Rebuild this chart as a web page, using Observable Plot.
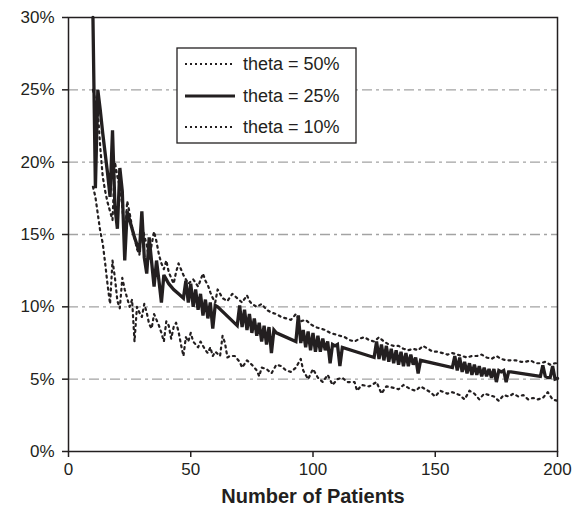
<!DOCTYPE html>
<html>
<head>
<meta charset="utf-8">
<script src="https://cdn.jsdelivr.net/npm/d3@7"></script>
<script src="https://cdn.jsdelivr.net/npm/@observablehq/plot@0.6"></script>
<style>
  html, body { margin: 0; padding: 0; background: #fff; }
  #chart { width: 579px; height: 515px; }
</style>
</head>
<body>
<div id="chart"></div>
<script>
// ---- Data (values in %) ----
const xTicks = [0, 50, 100, 150, 200];
const yTicks = [0, 5, 10, 15, 20, 25, 30];
const gridValues = [5, 10, 15, 20, 25];
const xLabel = "Number of Patients";
const seriesNames = ["theta = 50%", "theta = 25%", "theta = 10%"];

// theta = 25% (solid)
const n25 = [10,11,12,13,14,15,16,17,18,19,20,21,22,23,24,25,26,27,28,29,30,31,32,33,34,35,36,37,38,39,40,41,43,45,47,
  48,49,50,51,52,53,54,55,56,57,58,59,60,61,69,
  70,71,72,73,74,75,76,77,78,79,80,81,82,83,84,85,93,
  94,95,96,97,98,99,100,101,102,103,104,105,106,107,108,109,110,111,112,125,
  126,127,128,129,130,131,132,133,134,135,136,137,138,139,140,141,142,143,144,157,
  158,159,160,161,162,163,164,165,166,167,168,169,170,171,172,173,174,175,176,177,178,179,180,181,193,
  194,195,196,197,198,199,200];
const v25 = [30,18.2,25,23.6,22.0,20.6,19.2,17.6,22.2,16.9,15.4,19.6,18.0,13.2,16.6,16.0,15.4,14.8,14.3,13.8,16.6,13.4,12.3,14.8,13.1,11.4,13.2,11.8,10.3,12.2,11.9,11.6,11.2,10.9,10.6,
  11.8,10.3,11.6,10.0,11.2,9.8,10.9,9.4,10.5,9.2,10.3,8.5,10.1,10.0,8.7,
  10.1,8.6,9.8,8.4,9.5,8.2,9.2,8.0,8.9,7.6,8.7,7.4,8.6,6.8,8.4,8.2,7.6,
  9.4,7.5,8.4,7.2,8.3,7.0,8.2,6.9,8.0,6.9,7.8,7.0,7.6,6.1,7.4,7.3,7.4,5.9,7.2,6.5,
  7.6,6.4,7.4,6.3,7.3,6.2,7.1,6.1,7.0,6.0,6.9,5.9,6.8,5.9,6.7,6.0,6.5,5.4,6.3,5.8,
  6.6,5.6,6.5,5.5,6.2,5.4,6.1,5.3,6.0,5.3,5.9,5.2,5.8,5.2,5.7,5.1,5.7,4.8,5.6,5.5,5.6,4.8,5.5,5.5,5.2,
  5.95,5.2,5.1,5.1,5.9,5.0,5.05];

// theta = 50% (upper dotted)
const n50 = [10,12,13,14,15,16,17,18,19,20,21,22,23,24,25,26,27,28,29,30,31,32,33,34,35,36,37,38,39,40,41,42,43,44,45,47,49,51,53,55,56,57,58,59,60,61,62,63,65,67,69,71,73,74,75,77,79,81,83,85,87,89,91,93,94,95,97,99,101,103,105,107,109,111,113,115,117,119,121,123,125,127,129,131,133,135,137,139,141,143,145,147,149,151,153,155,157,159,161,163,165,167,169,171,173,175,177,179,181,183,185,187,189,191,193,195,197,199,200];
const v50 = [25,23.5,21.0,19.0,18.0,17.2,16.6,16.0,20.0,19.0,18.3,17.0,14.5,17.3,16.5,15.5,14.8,14.0,13.6,15.8,14.9,14.3,13.2,14.3,15.2,14.5,13.6,13.0,12.6,13.2,12.4,12.0,11.6,12.4,13.0,12.2,11.6,11.9,11.4,12.3,11.8,11.5,11.0,10.6,10.3,11.2,10.9,10.6,10.4,10.9,10.6,10.3,10.8,10.4,10.2,10.0,10.2,9.8,9.6,9.5,9.3,9.2,9.1,9.5,9.2,9.0,9.1,8.8,8.6,8.5,8.4,8.2,8.1,8.0,7.9,7.7,7.6,7.8,7.9,7.7,7.6,7.9,7.6,7.4,7.3,7.3,7.1,7.0,7.1,7.0,7.3,7.1,6.9,6.9,6.8,6.7,6.8,6.7,6.6,6.5,6.6,6.6,6.7,6.5,6.4,6.6,6.4,6.3,6.3,6.3,6.2,6.2,6.3,6.1,6.1,6.2,6.0,6.1,6.1];

// theta = 10% (lower dotted)
const n10 = [10,11,12,13,14,15,16,17,18,19,20,21,22,23,24,25,26,27,28,29,30,31,32,33,34,35,36,37,38,39,40,41,42,43,44,45,46,47,48,49,50,51,52,53,54,55,56,57,58,59,60,62,63,64,65,66,68,70,71,73,75,77,78,79,81,83,85,87,89,91,93,95,96,98,100,102,104,106,108,110,112,114,117,118,120,123,126,128,130,133,135,137,140,142,144,146,148,150,152,155,157,160,162,164,166,168,170,172,174,176,178,180,182,184,186,188,190,192,194,196,198,200];
const v10 = [18.3,17.6,16.4,15.2,14.4,13.0,11.5,10.2,13.2,12.0,10.4,9.9,12.0,11.2,10.6,10.0,10.5,7.6,10.0,9.6,9.3,10.2,9.6,8.8,8.5,9.5,9.1,8.7,8.2,7.6,9.0,8.7,7.8,8.6,8.9,8.3,7.4,6.6,7.9,7.6,8.2,7.6,7.4,7.2,7.6,7.3,7.0,6.8,7.2,6.6,6.9,6.6,8.0,7.5,6.5,6.6,6.6,6.2,5.8,6.3,6.0,5.6,5.2,5.8,5.7,5.4,6.0,5.9,5.6,5.5,5.8,6.4,5.6,5.0,5.7,5.1,4.8,5.3,4.6,5.0,5.1,4.8,4.8,4.2,4.6,4.5,4.8,4.0,4.5,4.4,4.3,4.6,4.3,4.2,4.5,4.3,4.1,3.8,4.2,4.0,4.1,3.9,3.6,4.2,4.0,3.6,4.0,3.9,3.8,3.5,3.9,3.8,4.0,3.8,3.9,3.6,3.7,3.6,3.7,4.1,3.6,3.5];

// ---- Build tables ----
const d25 = n25.map((n, i) => ({n, v: v25[i]}));
const d50 = n50.map((n, i) => ({n, v: v50[i]}));
const d10 = n10.map((n, i) => ({n, v: v10[i]}));

const ink = "#231f20";
const font = "'Liberation Sans', Arial, Helvetica, sans-serif";

const chart = Plot.plot({
  width: 579,
  height: 515,
  marginLeft: 68,
  marginRight: 22,
  marginTop: 17,
  marginBottom: 64,
  style: { fontFamily: font, fontSize: "17px", color: ink, background: "#fff", overflow: "visible" },
  x: { domain: [0, 200] },
  y: { domain: [0, 30] },
  marks: [
    Plot.ruleY(gridValues, { stroke: "#a3a3a3", strokeWidth: 1.3, strokeDasharray: "10,4,3,4" }),
    Plot.line(d50, { x: "n", y: "v", stroke: ink, strokeWidth: 2.2, strokeDasharray: "2,4" }),
    Plot.line(d10, { x: "n", y: "v", stroke: ink, strokeWidth: 2.2, strokeDasharray: "2,4" }),
    Plot.line(d25, { x: "n", y: "v", stroke: ink, strokeWidth: 3.3, strokeLinejoin: "miter", strokeMiterlimit: 3 }),
    Plot.frame({ stroke: ink, strokeWidth: 1.5 }),
    Plot.axisX({ ticks: xTicks, tickSize: 6, tickPadding: 5, label: null, fontSize: 17, stroke: ink, strokeWidth: 1.5 }),
    Plot.axisY({ ticks: yTicks, tickSize: 6, tickPadding: 8, label: null, fontSize: 17, tickFormat: d => d + "%", stroke: ink, strokeWidth: 1.5 }),
    Plot.text([xLabel], { frameAnchor: "bottom", dy: 45, text: d => d, fontSize: 20, fontWeight: "bold", fill: ink, lineAnchor: "middle" })
  ]
});

document.getElementById("chart").appendChild(chart);

// ---- Legend (inside plot area) ----
const svg = d3.select(chart);
const lg = svg.append("g").attr("font-family", font).attr("font-size", 18).attr("fill", ink).attr("text-anchor", "start");
lg.append("rect").attr("x", 177).attr("y", 48).attr("width", 179).attr("height", 95)
  .attr("fill", "#fff").attr("stroke", ink).attr("stroke-width", 1.3);
const rows = [
  { name: seriesNames[0], y: 64, w: 2, dash: "2,3" },
  { name: seriesNames[1], y: 96, w: 3, dash: null },
  { name: seriesNames[2], y: 127, w: 2, dash: "2,3" }
];
rows.forEach(r => {
  const l = lg.append("line").attr("x1", 185).attr("x2", 235).attr("y1", r.y).attr("y2", r.y)
    .attr("stroke", ink).attr("stroke-width", r.w);
  if (r.dash) l.attr("stroke-dasharray", r.dash);
  lg.append("text").attr("x", 243).attr("y", r.y).attr("dy", "0.35em").attr("text-anchor", "start").text(r.name);
});
</script>
</body>
</html>
